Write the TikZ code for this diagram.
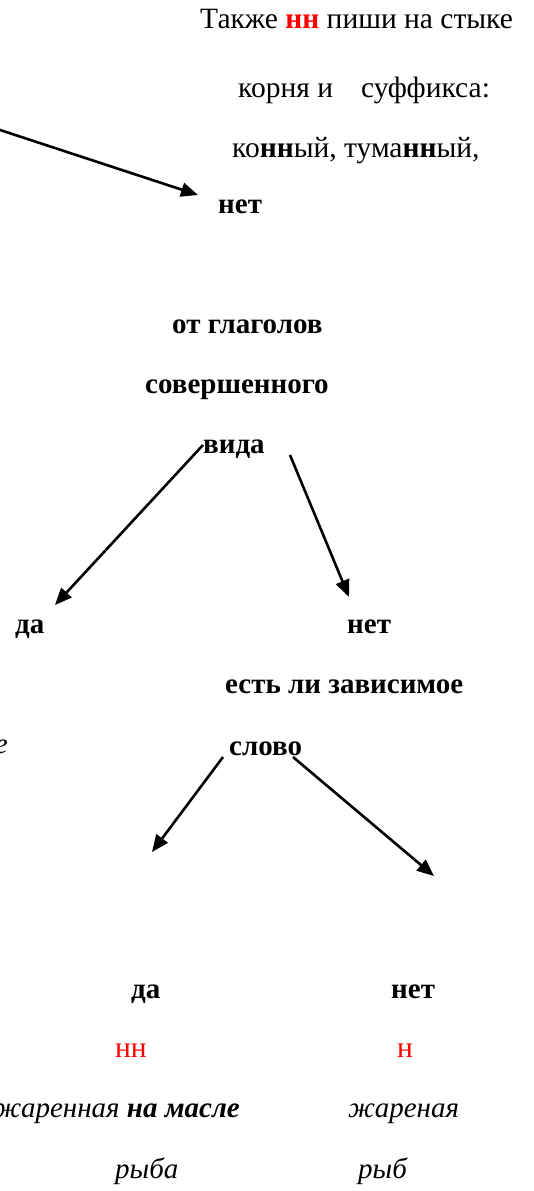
\documentclass[tikz,border=0pt]{standalone}
\usepackage{fontspec}
\setmainfont{Liberation Serif}
\usetikzlibrary{arrows.meta}
\begin{document}
\begin{tikzpicture}[x=1pt,y=-1pt,
  txt/.style={anchor=base west,inner sep=0pt,font=\fontsize{29.5}{34}\selectfont},
  bld/.style={txt,font=\fontsize{29}{34}\selectfont\bfseries},
  itl/.style={txt,font=\fontsize{29}{34}\selectfont\itshape},
  rd/.style={txt,text=red},
  arr/.style={line width=2.6pt,-{Triangle[length=17pt,width=14pt]}}]
\useasboundingbox (0,0) rectangle (533,1191);
\clip (0,0) rectangle (533,1191);
% top block
\node[txt] (t1) at (200,28) {Также \textbf{\color{red}нн} пиши на стыке};
\node[txt] (t2) at (238,97) {корня и\hspace{28pt}суффикса:};
\node[txt] (t3) at (232,157) {ко\textbf{нн}ый, тума\textbf{нн}ый,};
\node[bld] (net1) at (218,213) {нет};
\coordinate (a1s) at (-10,126.7);
\coordinate (a1e) at (198,195);
\draw[arr] (a1s) -- (a1e);
% middle block
\node[bld] (g1) at (172,333) {от глаголов};
\node[bld] (g2) at (145,393) {совершенного};
\node[bld] (g3) at (203,453) {вида};
\node[bld] (da1) at (15,633) {да};
\node[bld] (net2) at (347,633) {нет};
\coordinate (a2s) at (203,445);
\coordinate (a2e) at (55,605);
\coordinate (a3s) at (290,455);
\coordinate (a3e) at (349,597);
\draw[arr] (a2s) -- (a2e);
\draw[arr] (a3s) -- (a3e);
% dependent word
\node[bld] (z1) at (225,693) {есть ли зависимое};
\node[bld] (z2) at (229,755) {слово};
\node[itl,anchor=base east] (frag) at (8,753) {е};
\coordinate (a4s) at (223,757);
\coordinate (a4e) at (152,852);
\coordinate (a5s) at (293,757);
\coordinate (a5e) at (434,876);
\draw[arr] (a4s) -- (a4e);
\draw[arr] (a5s) -- (a5e);
% bottom
\node[bld] (da2) at (131,998) {да};
\node[bld] (net3) at (391,998) {нет};
\node[rd] (nn) at (115,1057) {нн};
\node[rd] (n) at (397,1057) {н};
\node[itl,anchor=base east] (ex1) at (240,1117) {жаренная \textbf{на масле}};
\node[itl] (ex2) at (348,1117) {жареная};
\node[itl] (ex3) at (115,1178) {рыба};
\node[itl] (ex4) at (358,1178) {рыб};
\end{tikzpicture}
\end{document}
